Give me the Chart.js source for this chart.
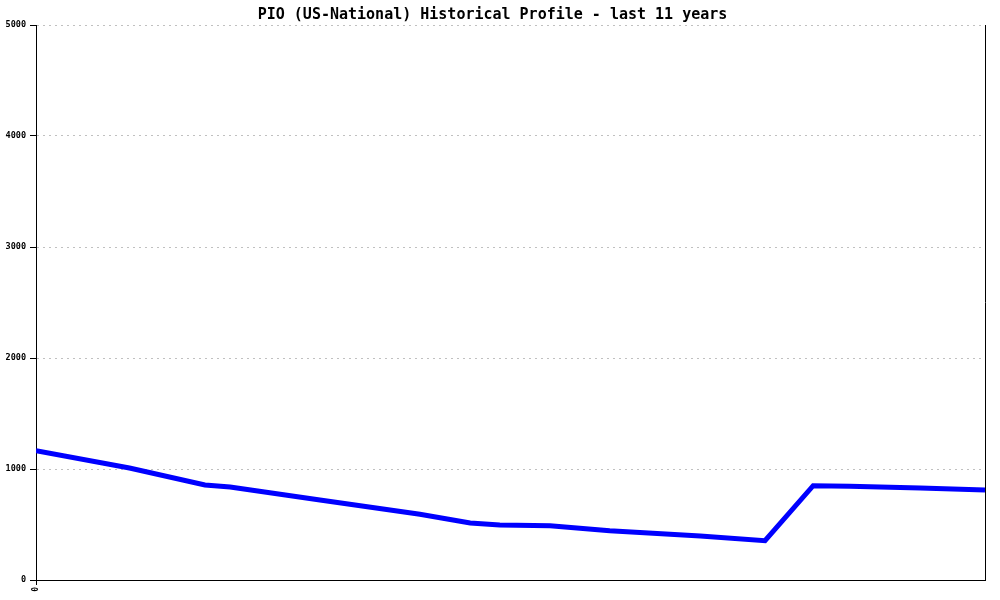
<!DOCTYPE html>
<html>
<head>
<meta charset="utf-8">
<script src="https://cdn.jsdelivr.net/npm/chart.js@4.4.0/dist/chart.umd.min.js"></script>
<style>
  html, body { margin: 0; padding: 0; background: #fff; }
  #wrap { width: 1000px; height: 600px; }
</style>
</head>
<body>
<div id="wrap"><canvas id="myChart" width="1000" height="600"></canvas></div>
<script>
// months since start of the 11 year window
const months = [0, 13, 23.5, 27, 39.5, 53.4, 60.4, 64.5, 71.5, 79.8, 92.4, 101.4, 108.1, 113.2, 123, 132];
const values = [1165, 1009, 856, 838, 721, 592, 514, 495, 489, 444, 396, 354, 850, 845, 829, 811];
const yTicks = [0, 1000, 2000, 3000, 4000, 5000];
const xTickLabels = ["0"];

const mono = "'DejaVu Sans Mono', 'Liberation Mono', monospace";

// right frame line
const rightBorder = {
  id: "rightBorder",
  afterDraw(chart) {
    const a = chart.chartArea;
    const ctx = chart.ctx;
    ctx.save();
    ctx.strokeStyle = "#000";
    ctx.lineWidth = 1;
    ctx.beginPath();
    ctx.moveTo(Math.round(a.right) + 0.5, a.top);
    ctx.lineTo(Math.round(a.right) + 0.5, a.bottom);
    ctx.stroke();
    ctx.restore();
  }
};

var ctx = document.getElementById("myChart").getContext("2d");
var chart = new Chart(ctx, {
  type: "line",
  data: {
    datasets: [
      {
        label: "PIO",
        data: months.map((m, i) => ({ x: m, y: values[i] })),
        borderColor: "#0000ff",
        backgroundColor: "#0000ff",
        borderWidth: 5,
        pointRadius: 0,
        tension: 0,
        fill: false,
      },
    ],
  },
  options: {
    responsive: false,
    animation: false,
    devicePixelRatio: 1,
    layout: { padding: { right: 15, left: 0, top: 0, bottom: 0 } },
    plugins: {
      legend: { display: false },
      tooltip: { enabled: false },
      title: {
        display: true,
        text: "PIO (US-National) Historical Profile - last 11 years",
        color: "#000",
        font: { family: mono, size: 15, weight: "bold", lineHeight: 1.2 },
        padding: { top: 6, bottom: 1 },
      },
    },
    scales: {
      x: {
        type: "linear",
        min: 0,
        max: 132,
        afterBuildTicks: (s) => { s.ticks = xTickLabels.map((t) => ({ value: Number(t) })); },
        afterFit: (s) => { s.height = 20; },
        ticks: {
          autoSkip: false,
          minRotation: 90,
          maxRotation: 90,
          color: "#000",
          padding: 2,
          font: { family: mono, size: 8, weight: "bold" },
          callback: (v) => String(v),
        },
        grid: { drawOnChartArea: false, tickLength: 5, tickColor: "#000" },
        border: { display: true, color: "#000", width: 1 },
      },
      y: {
        min: 0,
        max: 5000,
        afterBuildTicks: (s) => { s.ticks = yTicks.map((v) => ({ value: v })); },
        afterFit: (s) => { s.width = 36; },
        ticks: {
          color: "#000",
          padding: 4,
          font: { family: mono, size: 8.5, weight: "bold" },
          callback: (v) => String(v),
        },
        grid: {
          color: "#c0c0c0",
          lineWidth: 1,
          tickLength: 6,
          tickColor: "#000",
          tickBorderDash: [],
        },
        border: { display: true, color: "#000", width: 1, dash: [2, 4] },
      },
    },
  },
  plugins: [rightBorder],
});
</script>
</body>
</html>
